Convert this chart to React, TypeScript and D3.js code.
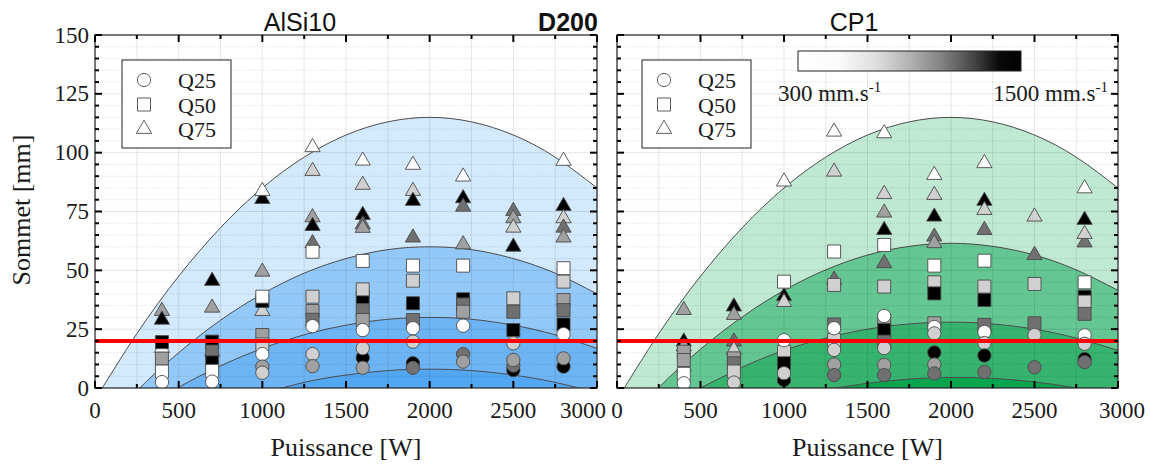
import React from 'react';
import * as d3 from 'd3';

type Pt = [number, number, number]; // [power W, height mm, speed mm/s]

const powerTicks = [0, 500, 1000, 1500, 2000, 2500, 3000];
const heightTicks = [0, 25, 50, 75, 100, 125, 150];
const speedLevels = [300, 600, 900, 1200, 1500];
const speedGrays = ['#ffffff', '#d0d0d0', '#a0a0a0', '#707070', '#000000'];
const legendLabels = ['Q25', 'Q50', 'Q75'];
const panelTitles = ['AlSi10', 'CP1'];
const centerTitle = 'D200';
const xAxisTitle = 'Puissance [W]';
const yAxisTitle = 'Sommet [mm]';
const speedMinLabel = '300 mm.s';
const speedMaxLabel = '1500 mm.s';
const threshold = 20;

// contour curves, sampled heights at these powers
const curvePowers = [0, 250, 500, 750, 1000, 1250, 1500, 1750, 2000, 2250, 2500, 2750, 3000];
const alCurve1 = [-5, 23.1, 47.5, 68.1, 85, 98.1, 107.5, 113.1, 115, 113.1, 107.5, 98.1, 85];
const alCurve2 = [-20, -1.2, 15, 28.8, 40, 48.8, 55, 58.8, 60, 58.8, 55, 48.8, 40];
const alCurve3 = [-22.8, -10.4, 0.3, 9.4, 16.8, 22.6, 26.7, 29.2, 30, 29.2, 26.7, 22.6, 16.8];
const alCurve4 = [-32, -22.6, -14.5, -6.1, -2, 2.4, 5.5, 7.4, 8, 7.4, 5.5, 2.4, -2];
const cpCurve1 = [-5, 23.1, 47.5, 68.1, 85, 98.1, 107.5, 113.1, 115, 113.1, 107.5, 98.1, 85];
const cpCurve2 = [-18.5, 0.2, 16.5, 30.2, 41.5, 50.2, 56.5, 60.2, 61.5, 60.2, 56.5, 50.2, 41.5];
const cpCurve3 = [-20, -8.8, 0, 8.8, 16, 21.2, 25, 27.2, 28, 27.2, 25, 21.2, 16];
const cpCurve4 = [-31.5, -23.1, -15.7, -9.8, -4.8, -0.8, 2.0, 3.8, 4.5, 4.1, 2.6, 0, -3.6];

const alBandColors = ['#d3e9fd', '#93c9f8', '#6db4f5', '#52a7f3'];
const cpBandColors = ['#c0e9d4', '#64c693', '#36b46f', '#08a54e'];

const alQ75: Pt[] = [
  [400, 32.7, 900], [400, 29, 1500], [400, 17, 300],
  [700, 45.5, 1500], [700, 34.1, 900], [700, 15.6, 300],
  [1000, 80.3, 1500], [1000, 83.7, 300], [1000, 49.4, 900], [1000, 32.7, 600],
  [1300, 102.3, 300], [1300, 92.2, 600], [1300, 72.5, 900], [1300, 68.8, 1500], [1300, 61.5, 1200],
  [1600, 96.6, 300], [1600, 86.3, 600], [1600, 73.5, 1500], [1600, 69.5, 1200], [1600, 68, 900],
  [1900, 94.8, 300], [1900, 83.7, 600], [1900, 79.5, 1500], [1900, 63.9, 1200],
  [2200, 89.8, 300], [2200, 80.6, 1500], [2200, 77, 1200], [2200, 61, 900],
  [2500, 75.2, 1200], [2500, 72.1, 900], [2500, 68.1, 600], [2500, 60, 1500],
  [2800, 96.5, 300], [2800, 77.3, 1500], [2800, 72.1, 600], [2800, 68.1, 1200], [2800, 63.9, 900],
];
const alQ50: Pt[] = [
  [400, 19.5, 1500], [400, 12.5, 900], [400, 7, 300],
  [700, 19.7, 1500], [700, 15.5, 1200], [700, 10.9, 1500], [700, 7.3, 300],
  [1000, 37, 1500], [1000, 38.8, 300], [1000, 22.5, 900], [1000, 18.5, 600],
  [1300, 57.9, 300], [1300, 38.8, 600], [1300, 32.7, 900], [1300, 29, 1200],
  [1600, 54, 300], [1600, 38.6, 1500], [1600, 41.9, 600], [1600, 33.1, 1200], [1600, 28.9, 900],
  [1900, 52, 300], [1900, 45.6, 600], [1900, 36, 1500], [1900, 28.9, 1200],
  [2200, 52, 300], [2200, 37.7, 1500], [2200, 35.5, 1200], [2200, 32.4, 900],
  [2500, 38.1, 600], [2500, 32.4, 1200], [2500, 24.6, 1500],
  [2800, 50.9, 300], [2800, 45.2, 600], [2800, 37.4, 900], [2800, 33.1, 1200], [2800, 27, 1500],
];
const alQ25: Pt[] = [
  [400, 2.5, 300],
  [700, 2.7, 300],
  [1000, 14.4, 300], [1000, 9.1, 900], [1000, 6.5, 600],
  [1300, 26.3, 300], [1300, 14.4, 600], [1300, 9.3, 900],
  [1600, 24.6, 300], [1600, 12.9, 1500], [1600, 16.9, 600], [1600, 8.6, 900],
  [1900, 25.4, 300], [1900, 19.7, 600], [1900, 10.5, 1500], [1900, 8.6, 1200],
  [2200, 26.5, 300], [2200, 14.4, 1200], [2200, 11.2, 900],
  [2500, 19, 600], [2500, 7.6, 1500], [2500, 9.5, 1200], [2500, 11.9, 900],
  [2800, 22.9, 300], [2800, 9.1, 1500], [2800, 12.6, 900],
];

const cpQ75: Pt[] = [
  [400, 33.1, 900], [400, 19.7, 1500], [400, 17.6, 900], [400, 9.1, 300],
  [700, 34.6, 1500], [700, 31, 900], [700, 19.7, 1200], [700, 16.2, 600],
  [1000, 87.7, 300], [1000, 39, 1500], [1000, 36.5, 600],
  [1300, 108.9, 300], [1300, 91.9, 600], [1300, 46, 1200],
  [1600, 108.2, 300], [1600, 82.4, 600], [1600, 74.5, 900], [1600, 67.1, 1500], [1600, 53, 1200],
  [1900, 90.5, 300], [1900, 82, 600], [1900, 72.8, 1500], [1900, 64.3, 1200], [1900, 61.5, 900],
  [2200, 95.5, 300], [2200, 79.5, 1500], [2200, 75.6, 600], [2200, 67.1, 1200],
  [2500, 72.8, 600], [2500, 56.5, 1200],
  [2800, 84.8, 300], [2800, 71.4, 1500], [2800, 61.8, 1200], [2800, 65.4, 600],
];
const cpQ50: Pt[] = [
  [400, 15.4, 900], [400, 11.9, 900], [400, 6, 300],
  [700, 12.6, 900], [700, 10.5, 1200], [700, 7, 600],
  [1000, 45.2, 300], [1000, 15.4, 600], [1000, 10.5, 1500],
  [1300, 58, 300], [1300, 43.8, 600], [1300, 27, 1200], [1300, 20.4, 600],
  [1600, 60.8, 300], [1600, 43.1, 600], [1600, 28.5, 900], [1600, 24.6, 1500], [1600, 19.7, 1200],
  [1900, 52, 300], [1900, 44.9, 600], [1900, 40.2, 1500], [1900, 27.5, 900],
  [2200, 54.1, 300], [2200, 43.1, 600], [2200, 37.4, 1500], [2200, 26.8, 1200],
  [2500, 44.2, 600], [2500, 27.5, 1200],
  [2800, 44.9, 300], [2800, 38.8, 1500], [2800, 36.7, 600], [2800, 31.5, 1200],
];
const cpQ25: Pt[] = [
  [400, 2, 300],
  [700, 2.3, 600],
  [1000, 20.3, 300], [1000, 3.4, 1500], [1000, 6.3, 600],
  [1300, 25.4, 300], [1300, 16.2, 600], [1300, 10, 900], [1300, 5.5, 1200],
  [1600, 30.6, 300], [1600, 17, 600], [1600, 9.8, 900], [1600, 5.5, 1200],
  [1900, 25.9, 300], [1900, 23.2, 600], [1900, 15.1, 1500], [1900, 10, 900], [1900, 6.2, 1200],
  [2200, 23.8, 300], [2200, 19.1, 600], [2200, 13.8, 1500], [2200, 6.8, 1200],
  [2500, 22.5, 600], [2500, 8.8, 1200],
  [2800, 22.4, 300], [2800, 18.8, 600], [2800, 12.3, 1500], [2800, 11, 1200],
];

const SERIF = '"Liberation Serif", "Times New Roman", serif';
const SANS = '"Liberation Sans", Arial, sans-serif';
const Y_TOP = 35;
const Y_BOT = 388;

const grayScale = d3.scaleLinear<string>().domain(speedLevels).range(speedGrays);
const symCircle = d3.symbol().type(d3.symbolCircle).size(140)() as string;
const symSquare = d3.symbol().type(d3.symbolSquare).size(169)() as string;
const symTriangle = d3.symbol().type(d3.symbolTriangle).size(100)() as string;

type PanelProps = {
  id: string;
  x0: number;
  x1: number;
  curves: number[][];
  bandColors: string[];
  q75: Pt[];
  q50: Pt[];
  q25: Pt[];
  showYLabels: boolean;
  shiftLastX: number;
  legendX: number;
  title: string;
  titleX: number;
};

function Panel(p: PanelProps) {
  const x = d3.scaleLinear().domain([0, 3000]).range([p.x0, p.x1]);
  const y = d3.scaleLinear().domain([0, 150]).range([Y_BOT, Y_TOP]);
  const area = d3
    .area<number>()
    .x((_, i) => x(curvePowers[i]))
    .y0(y(-60))
    .y1((d) => y(d))
    .curve(d3.curveNatural);
  const line = d3
    .line<number>()
    .x((_, i) => x(curvePowers[i]))
    .y((d) => y(d))
    .curve(d3.curveNatural);
  const xMinor = d3.range(0, 3001, 250);
  const yMinor = d3.range(0, 151, 5);
  const marker = (pts: Pt[], path: string, key: string) =>
    pts.map((d, i) => (
      <path
        key={key + i}
        d={path}
        transform={`translate(${x(d[0])},${y(d[1])})`}
        fill={grayScale(d[2])}
        stroke="#4a4a4a"
        strokeWidth={0.9}
      />
    ));
  const w = p.x1 - p.x0;
  const h = Y_BOT - Y_TOP;
  return (
    <g>
      <defs>
        <clipPath id={p.id}>
          <rect x={p.x0} y={Y_TOP} width={w} height={h} />
        </clipPath>
      </defs>
      <rect x={p.x0} y={Y_TOP} width={w} height={h} fill="#fff" />
      <g clipPath={`url(#${p.id})`}>
        {p.curves.map((c, i) => (
          <path key={'a' + i} d={area(c) as string} fill={p.bandColors[i]} />
        ))}
        {p.curves.map((c, i) => (
          <path key={'l' + i} d={line(c) as string} fill="none" stroke="#4d4d4d" strokeWidth={1} />
        ))}
        {xMinor.map((v) => (
          <line key={'gx' + v} x1={x(v)} x2={x(v)} y1={Y_TOP} y2={Y_BOT} stroke="rgba(0,0,0,0.09)" strokeWidth={1} />
        ))}
        {yMinor.map((v) => (
          <line
            key={'gy' + v}
            x1={p.x0}
            x2={p.x1}
            y1={y(v)}
            y2={y(v)}
            stroke={v % 25 === 0 ? 'rgba(0,0,0,0.1)' : 'rgba(0,0,0,0.11)'}
            strokeDasharray={v % 25 === 0 ? undefined : '1.5,1.5'}
            strokeWidth={1}
          />
        ))}
        {marker(p.q75, symTriangle, 't')}
        {marker(p.q50, symSquare, 's')}
        {marker(p.q25, symCircle, 'c')}
        <line x1={p.x0} x2={p.x1} y1={y(threshold)} y2={y(threshold)} stroke="#ff0000" strokeWidth={4} />
      </g>
      <rect x={p.x0} y={Y_TOP} width={w} height={h} fill="none" stroke="#333" strokeWidth={1.3} />
      {xMinor.map((v) => {
        const len = v % 500 === 0 ? 7 : 4;
        return (
          <g key={'tx' + v}>
            <line x1={x(v)} x2={x(v)} y1={Y_BOT} y2={Y_BOT - len} stroke="#000" strokeWidth={2} />
            <line x1={x(v)} x2={x(v)} y1={Y_TOP} y2={Y_TOP + len} stroke="#000" strokeWidth={2} />
          </g>
        );
      })}
      {yMinor.map((v) => {
        const len = v % 25 === 0 ? 7 : 4;
        return (
          <g key={'ty' + v}>
            <line x1={p.x0} x2={p.x0 + len} y1={y(v)} y2={y(v)} stroke="#000" strokeWidth={2} />
            <line x1={p.x1} x2={p.x1 - len} y1={y(v)} y2={y(v)} stroke="#000" strokeWidth={2} />
          </g>
        );
      })}
      {powerTicks.map((v, i) => (
        <text
          key={'lx' + v}
          x={x(v) + (i === powerTicks.length - 1 ? p.shiftLastX : 0)}
          y={418}
          textAnchor="middle"
          fontFamily={SERIF}
          fontSize={23}
          fill="#1a1a1a"
        >
          {v}
        </text>
      ))}
      {p.showYLabels &&
        heightTicks.map((v) => (
          <text key={'ly' + v} x={89} y={y(v)} dy="0.33em" textAnchor="end" fontFamily={SERIF} fontSize={23} fill="#1a1a1a">
            {v}
          </text>
        ))}
      <text x={(p.x0 + p.x1) / 2} y={456} textAnchor="middle" fontFamily={SERIF} fontSize={26} fill="#1a1a1a">
        {xAxisTitle}
      </text>
      <text x={p.titleX} y={31} textAnchor="middle" fontFamily={SANS} fontSize={25} fill="#111">
        {p.title}
      </text>
      <g>
        <rect x={p.legendX} y={60} width={109} height={88} fill="#fff" stroke="#222" strokeWidth={1} />
        {[symCircle, symSquare, symTriangle].map((s, i) => (
          <g key={'lg' + i}>
            <path d={s} transform={`translate(${p.legendX + 22},${80 + i * 24.5})`} fill="#fff" stroke="#4a4a4a" strokeWidth={0.9} />
            <text x={p.legendX + 56} y={80 + i * 24.5 + 8} fontFamily={SERIF} fontSize={22} fill="#1a1a1a">
              {legendLabels[i]}
            </text>
          </g>
        ))}
      </g>
    </g>
  );
}

export default function App() {
  const cbX0 = 798;
  const cbX1 = 1021;
  return (
    <svg
      width={1150}
      height={467}
      viewBox="0 0 1150 467"
      style={{ position: 'absolute', left: 0, top: 0, background: '#fff' }}
    >
      <rect x={0} y={0} width={1150} height={467} fill="#fff" />
      <defs>
        <linearGradient id="speedGrad" x1="0" x2="1" y1="0" y2="0">
          <stop offset="0" stopColor="#ffffff" />
          <stop offset="0.18" stopColor="#fbfbfb" />
          <stop offset="0.35" stopColor="#dedede" />
          <stop offset="0.5" stopColor="#b2b2b2" />
          <stop offset="0.65" stopColor="#808080" />
          <stop offset="0.8" stopColor="#404040" />
          <stop offset="0.9" stopColor="#0a0a0a" />
          <stop offset="1" stopColor="#000000" />
        </linearGradient>
      </defs>
      <Panel
        id="clipL"
        x0={95}
        x1={597}
        curves={[alCurve1, alCurve2, alCurve3, alCurve4]}
        bandColors={alBandColors}
        q75={alQ75}
        q50={alQ50}
        q25={alQ25}
        showYLabels={true}
        shiftLastX={-14}
        legendX={122}
        title={panelTitles[0]}
        titleX={300}
      />
      <Panel
        id="clipR"
        x0={617}
        x1={1118}
        curves={[cpCurve1, cpCurve2, cpCurve3, cpCurve4]}
        bandColors={cpBandColors}
        q75={cpQ75}
        q50={cpQ50}
        q25={cpQ25}
        showYLabels={false}
        shiftLastX={4}
        legendX={642}
        title={panelTitles[1]}
        titleX={854}
      />
      <text x={568} y={31} textAnchor="middle" fontFamily={SANS} fontWeight="bold" fontSize={25} fill="#111">
        {centerTitle}
      </text>
      <text
        transform="translate(30,210) rotate(-90)"
        textAnchor="middle"
        fontFamily={SERIF}
        fontSize={26}
        fill="#1a1a1a"
      >
        {yAxisTitle}
      </text>
      <rect x={cbX0} y={51} width={cbX1 - cbX0} height={20} fill="url(#speedGrad)" stroke="#222" strokeWidth={1} />
      <text x={778} y={101} fontFamily={SERIF} fontSize={23} fill="#1a1a1a">
        <tspan>{speedMinLabel}</tspan>
        <tspan dy={-9} fontSize={15}>-1</tspan>
      </text>
      <text x={1108} y={101} textAnchor="end" fontFamily={SERIF} fontSize={23} fill="#1a1a1a">
        <tspan>{speedMaxLabel}</tspan>
        <tspan dy={-9} fontSize={15}>-1</tspan>
      </text>
    </svg>
  );
}
